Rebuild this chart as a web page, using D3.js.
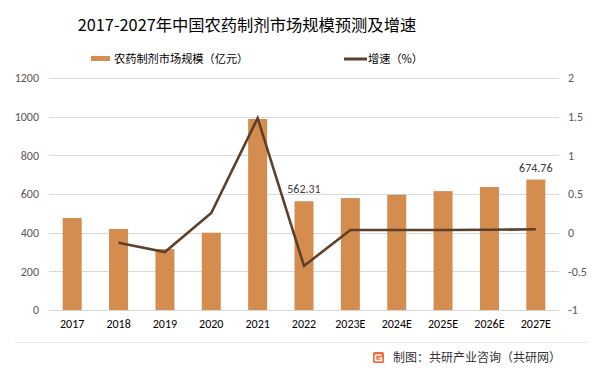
<!DOCTYPE html>
<html><head><meta charset="utf-8">
<script src="https://cdn.jsdelivr.net/npm/d3@7"></script>
<style>
body{margin:0;background:#fff;}
svg{display:block;font-family:"Microsoft YaHei","Noto Sans CJK SC",sans-serif;}
</style></head>
<body>
<svg id="c" width="600" height="372"></svg>
<script>
const title = "2017-2027年中国农药制剂市场规模预测及增速";
const categories = ["2017","2018","2019","2020","2021","2022","2023E","2024E","2025E","2026E","2027E"];
const marketSize = [476, 419, 315, 400, 988, 562.31, 579, 596, 615, 636, 674.76];
const growth = [null, -0.13, -0.25, 0.255, 1.48, -0.43, 0.035, 0.035, 0.035, 0.037, 0.044];
const leftTicks = [0,200,400,600,800,1000,1200];
const rightTicks = [-1,-0.5,0,0.5,1,1.5,2];
const labelled = {"2022":"562.31","2027E":"674.76"};
const seriesNames = ["农药制剂市场规模（亿元）","增速（%）"];
const source = "制图：共研产业咨询（共研网）";

const svg = d3.select("#c");
const L = 49, R = 559, T = 78, B = 310;
const x = d3.scaleBand().domain(categories).range([L,R]).paddingInner(0.59).paddingOuter(0.295);
const y = d3.scaleLinear().domain([0,1200]).range([B,T]);
const y2 = d3.scaleLinear().domain([-1,2]).range([B,T]);
const barColor = "#D58D4F", lineColor = "#5C4029", txt = "#595959";
const numFont = "Calibri,Carlito,'Liberation Sans',sans-serif";

// title
svg.append("text").attr("x",247).attr("y",31).attr("text-anchor","middle")
  .attr("font-size",16.3).attr("fill","#000").text(title);

// legend
svg.append("rect").attr("x",91).attr("y",56).attr("width",19).attr("height",5).attr("fill",barColor);
svg.append("text").attr("x",114).attr("y",63).attr("font-size",11.2).attr("fill","#000").text(seriesNames[0]);
svg.append("rect").attr("x",344).attr("y",57.5).attr("width",23).attr("height",3).attr("fill",lineColor);
svg.append("text").attr("x",368).attr("y",63).attr("font-size",11.2).attr("fill","#000").text(seriesNames[1]);

// gridlines
svg.append("g").selectAll("line").data(leftTicks).join("line")
  .attr("x1",L).attr("x2",R).attr("y1",d=>Math.round(y(d))+0.5).attr("y2",d=>Math.round(y(d))+0.5)
  .attr("stroke","#D9D9D9").attr("stroke-width",1);

// left axis
const ga = svg.append("g").attr("transform",`translate(${L-10},0)`)
  .call(d3.axisLeft(y).tickValues(leftTicks).tickSize(0).tickPadding(0).tickFormat(d3.format("d")));
ga.select(".domain").remove();
ga.selectAll("text").attr("font-size",12).attr("fill",txt).attr("font-family",numFont);

// right axis
const gr = svg.append("g").attr("transform",`translate(${R+9},0)`)
  .call(d3.axisRight(y2).tickValues(rightTicks).tickSize(0).tickPadding(0).tickFormat(d=>String(d)));
gr.select(".domain").remove();
gr.selectAll("text").attr("font-size",12).attr("fill",txt).attr("font-family",numFont);

// bars
svg.append("g").selectAll("rect").data(marketSize).join("rect")
  .attr("x",(d,i)=>x(categories[i])).attr("width",x.bandwidth())
  .attr("y",d=>y(d)).attr("height",d=>B-y(d)).attr("fill",barColor);

// x axis labels
const gx = svg.append("g").attr("transform",`translate(0,${B+9})`)
  .call(d3.axisBottom(x).tickSize(0).tickPadding(0));
gx.select(".domain").remove();
gx.selectAll("text").attr("font-size",12).attr("fill","#000").attr("font-family",numFont);

// line
const pts = categories.map((c,i)=>({c,v:growth[i]})).filter(d=>d.v!==null);
svg.append("path").datum(pts)
  .attr("d",d3.line().x(d=>x(d.c)+x.bandwidth()/2).y(d=>y2(d.v)))
  .attr("fill","none").attr("stroke",lineColor).attr("stroke-width",2.6).attr("stroke-linejoin","miter");

// data labels
categories.forEach((c,i)=>{
  if(labelled[c]){
    svg.append("text").attr("x",x(c)+x.bandwidth()/2).attr("y",y(marketSize[i])-8)
      .attr("text-anchor","middle").attr("font-size",12).attr("fill","#404040")
      .attr("font-family",numFont).text(labelled[c]);
  }
});

// separator
svg.append("line").attr("x1",15).attr("x2",587).attr("y1",342.5).attr("y2",342.5).attr("stroke","#E6E6E6");

// source logo
const lg = svg.append("g").attr("transform","translate(373,352)");
lg.append("rect").attr("width",11).attr("height",11).attr("rx",1.5).attr("fill","#F26B3A");
lg.append("path").attr("d","M2.5 3 H8.5 M2.5 3 V8.5 H8.5 V6 H5.5").attr("fill","none").attr("stroke","#fff").attr("stroke-width",1.6);
svg.append("text").attr("x",393).attr("y",362).attr("font-size",12).attr("fill","#333").text(source);
</script>
</body></html>
